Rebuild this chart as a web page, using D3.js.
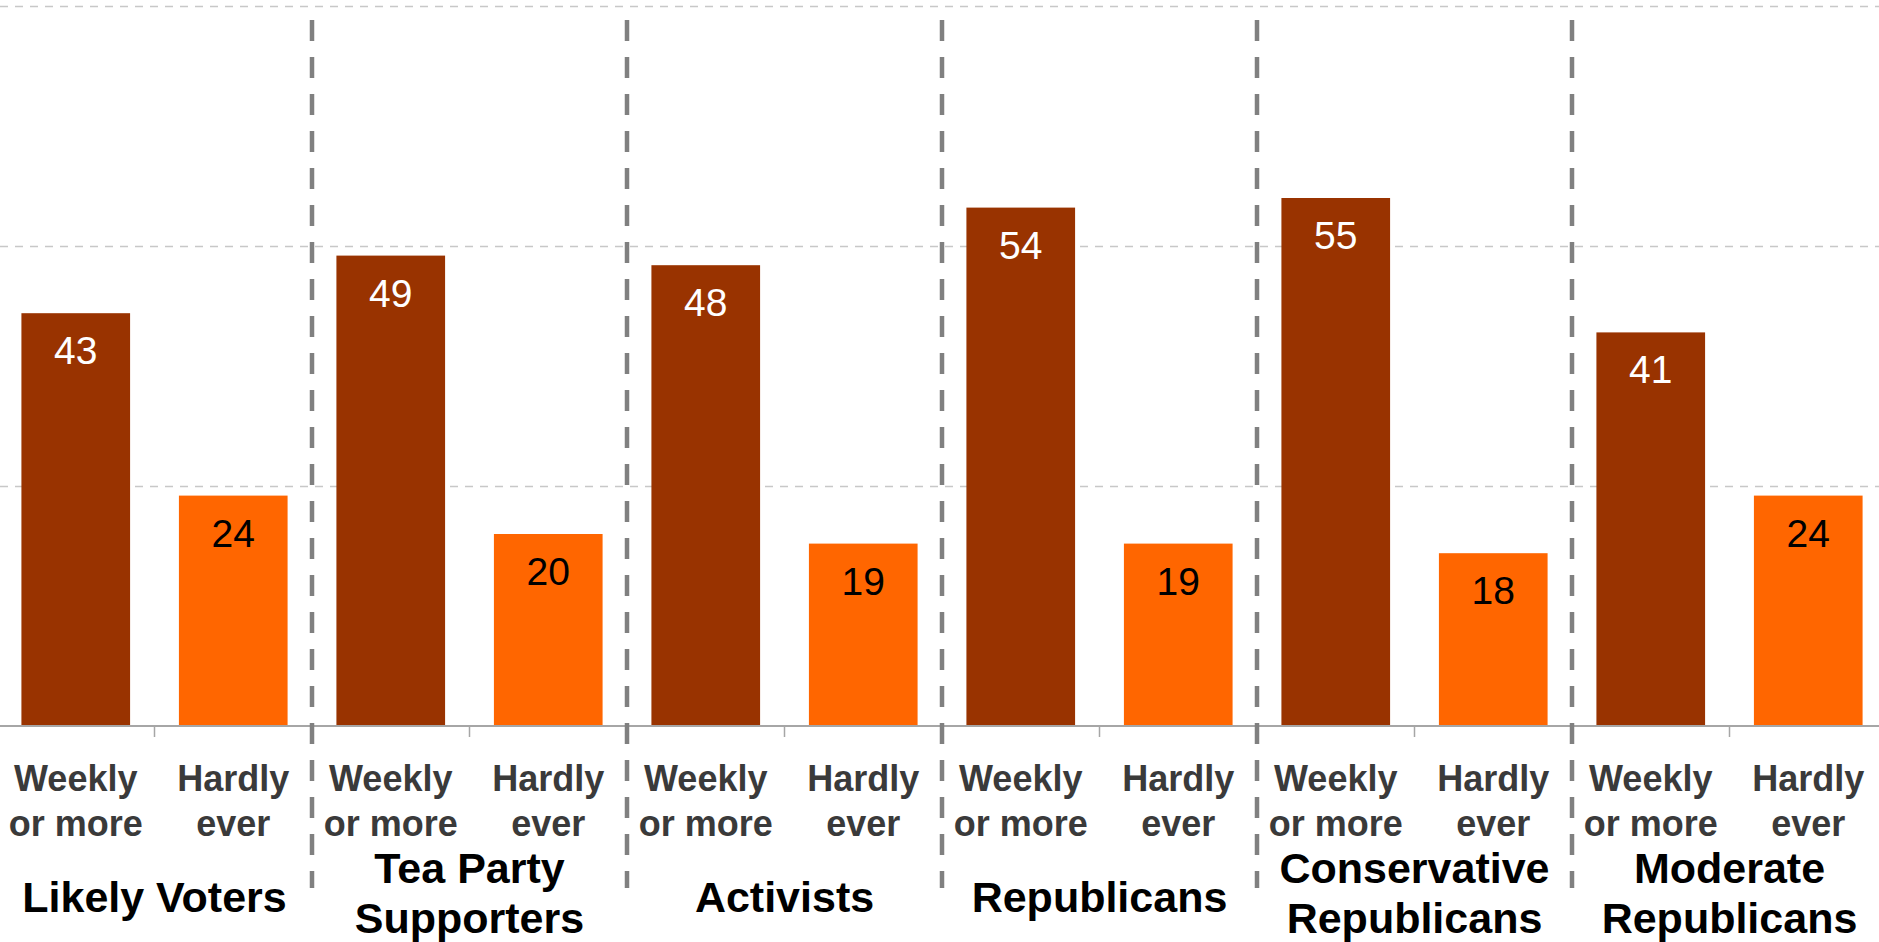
<!DOCTYPE html>
<html>
<head>
<meta charset="utf-8">
<script src="https://cdn.jsdelivr.net/npm/d3@7"></script>
<style>
  html, body { margin: 0; padding: 0; background: #ffffff; }
  svg { display: block; font-family: "Liberation Sans", Arial, sans-serif; }
</style>
</head>
<body>
<svg id="chart" width="1879" height="942"></svg>
<script>
// ---- data ----
const groups = ["Likely Voters", "Tea Party Supporters", "Activists", "Republicans", "Conservative Republicans", "Moderate Republicans"];
const groupLabelLines = [["Likely Voters"], ["Tea Party", "Supporters"], ["Activists"], ["Republicans"], ["Conservative", "Republicans"], ["Moderate", "Republicans"]];
const frequencies = ["Weekly or more", "Hardly ever"];
const frequencyLabelLines = [["Weekly", "or more"], ["Hardly", "ever"]];
const weeklyValues = [43, 49, 48, 54, 55, 41];
const hardlyValues = [24, 20, 19, 19, 18, 24];
const gridTicks = [25, 50, 75];

// ---- layout ----
const W = 1879, H = 942;
const baseY = 726, topY = 6;
const colors = { "Weekly or more": "#993300", "Hardly ever": "#FF6600" };
const labelColors = { "Weekly or more": "#ffffff", "Hardly ever": "#000000" };

const rows = [];
groups.forEach((g, i) => {
  rows.push({ group: g, gi: i, freq: frequencies[0], fi: 0, value: weeklyValues[i] });
  rows.push({ group: g, gi: i, freq: frequencies[1], fi: 1, value: hardlyValues[i] });
});
const key = d => d.group + "|" + d.freq;

const x = d3.scaleBand().domain(rows.map(key)).range([-3, 1887]).paddingInner(0.31).paddingOuter(0.155);
const y = d3.scaleLinear().domain([0, 75]).range([baseY, topY]);
const step = x.step();
const rangeStart = x.range()[0];

const svg = d3.select("#chart");

// gridlines
svg.append("g").selectAll("line").data(gridTicks).join("line")
  .attr("x1", 0).attr("x2", W)
  .attr("y1", d => y(d) + 0.5).attr("y2", d => y(d) + 0.5)
  .attr("stroke", "#c8c8c8").attr("stroke-width", 1.5)
  .attr("stroke-dasharray", "8,7");

// bars
svg.append("g").selectAll("rect").data(rows).join("rect")
  .attr("x", d => x(key(d)))
  .attr("y", d => y(d.value))
  .attr("width", x.bandwidth())
  .attr("height", d => y(0) - y(d.value))
  .attr("fill", d => colors[d.freq]);

// value labels
svg.append("g").selectAll("text").data(rows).join("text")
  .attr("x", d => x(key(d)) + x.bandwidth() / 2)
  .attr("y", d => y(d.value) + 51)
  .attr("text-anchor", "middle")
  .attr("font-size", 39)
  .attr("fill", d => labelColors[d.freq])
  .text(d => d.value);

// baseline axis
svg.append("line")
  .attr("x1", 0).attr("x2", W)
  .attr("y1", baseY).attr("y2", baseY)
  .attr("stroke", "#a6a6a6").attr("stroke-width", 2);

// boundary tick marks
const boundaries = d3.range(1, rows.length).map(i => rangeStart + i * step);
svg.append("g").selectAll("line").data(boundaries).join("line")
  .attr("x1", d => d).attr("x2", d => d)
  .attr("y1", baseY).attr("y2", baseY + 11)
  .attr("stroke", "#a6a6a6").attr("stroke-width", 1.5);

// subcategory labels
const sub = svg.append("g").selectAll("text").data(rows).join("text")
  .attr("text-anchor", "middle")
  .attr("font-size", 36)
  .attr("font-weight", "bold")
  .attr("fill", "#3a3a3a");
sub.each(function (d) {
  const t = d3.select(this);
  frequencyLabelLines[d.fi].forEach((line, li) => {
    t.append("tspan")
      .attr("x", x(key(d)) + x.bandwidth() / 2)
      .attr("y", 791 + li * 45)
      .text(line);
  });
});

// group separators
const sepX = d3.range(1, groups.length).map(i => rangeStart + i * 2 * step);
svg.append("g").selectAll("line").data(sepX).join("line")
  .attr("x1", d => d).attr("x2", d => d)
  .attr("y1", 20).attr("y2", 888)
  .attr("stroke", "#808080").attr("stroke-width", 4.5)
  .attr("stroke-dasharray", "21,16");

// group labels
const gl = svg.append("g").selectAll("text").data(groups).join("text")
  .attr("text-anchor", "middle")
  .attr("font-size", 43)
  .attr("font-weight", "bold")
  .attr("fill", "#000000");
gl.each(function (g, i) {
  const t = d3.select(this);
  const lines = groupLabelLines[i];
  const cx = rangeStart + (i * 2 + 1) * step;
  lines.forEach((line, li) => {
    t.append("tspan")
      .attr("x", cx)
      .attr("y", lines.length === 1 ? 912 : 883 + li * 50)
      .text(line);
  });
});
</script>
</body>
</html>
